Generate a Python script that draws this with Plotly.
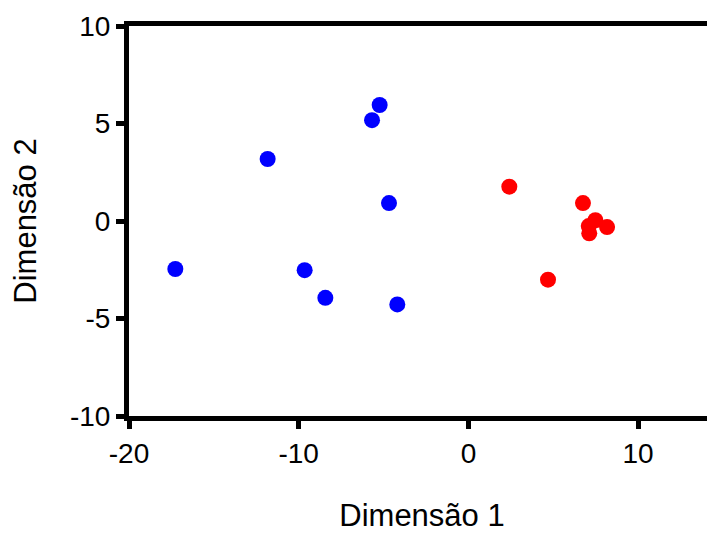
import plotly.graph_objects as go

blue_x = [-5.23, -5.68, -11.83, -4.68, -17.27, -9.65, -8.43, -4.19]
blue_y = [5.95, 5.17, 3.18, 0.92, -2.46, -2.52, -3.94, -4.28]
red_x = [2.41, 6.75, 7.48, 7.09, 8.17, 7.12, 4.69]
red_y = [1.76, 0.92, 0.04, -0.26, -0.31, -0.63, -3.01]

x_ticks = [-20, -10, 0, 10]
x_labels = ["-20", "-10", "0", "10"]
y_ticks = [-10, -5, 0, 5, 10]
y_labels = ["-10", "-5", "0", "5", "10"]

fig = go.Figure()
fig.add_trace(go.Scatter(x=blue_x, y=blue_y, mode="markers",
                         marker=dict(color="#0000ff", size=16), showlegend=False))
fig.add_trace(go.Scatter(x=red_x, y=red_y, mode="markers",
                         marker=dict(color="#ff0000", size=16), showlegend=False))

font = dict(family="Liberation Sans, Arial, sans-serif", size=28, color="black")
tfont = dict(family="Liberation Sans, Arial, sans-serif", size=31, color="black")
fig.update_layout(
    width=707, height=528,
    margin=dict(l=121, r=0, t=18, b=120),
    plot_bgcolor="white", paper_bgcolor="white",
    font=font,
    xaxis=dict(range=[-20, 14.53], tickvals=x_ticks, ticktext=x_labels,
               showgrid=False, zeroline=False, automargin=False,
               showline=True, linecolor="black", linewidth=5, mirror=True,
               ticks="outside", ticklen=8, tickwidth=5, tickcolor="black",
               tickfont=font,
               title=dict(text="Dimensão 1", font=tfont, standoff=38)),
    yaxis=dict(range=[-10, 10], tickvals=y_ticks, ticktext=y_labels,
               showgrid=False, zeroline=False, automargin=False,
               showline=True, linecolor="black", linewidth=5,
               ticks="outside", ticklen=8, tickwidth=5, tickcolor="black",
               tickfont=font,
               title=dict(text="Dimensão 2", font=tfont, standoff=27)),
)
fig.write_html("out.html")
